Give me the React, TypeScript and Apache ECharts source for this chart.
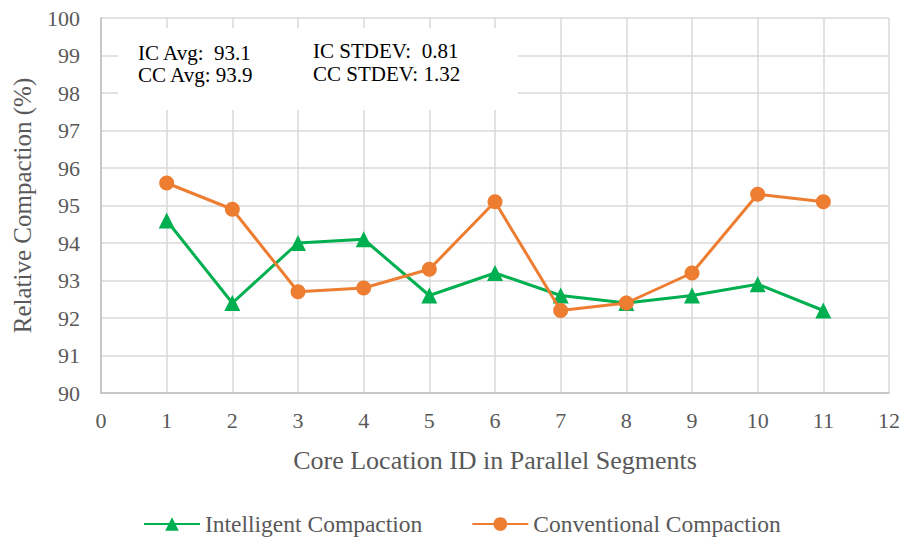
import React, { useEffect, useRef } from "react";
import * as echarts from "echarts";

const xValues = [1, 2, 3, 4, 5, 6, 7, 8, 9, 10, 11];
const icValues = [94.6, 92.4, 94.0, 94.1, 92.6, 93.2, 92.6, 92.4, 92.6, 92.9, 92.2];
const ccValues = [95.6, 94.9, 92.7, 92.8, 93.3, 95.1, 92.2, 92.4, 93.2, 95.3, 95.1];
const statsLeft = ["IC Avg:  93.1", "CC Avg: 93.9"];
const statsRight = ["IC STDEV:  0.81", "CC STDEV: 1.32"];

const FONT = "Liberation Serif";

export default function App() {
  const ref = useRef<HTMLDivElement>(null);
  useEffect(() => {
    if (!ref.current) return;
    document.body.style.margin = "0";
    const chart = echarts.init(ref.current, undefined, { renderer: "svg" });
    const toPairs = (vals: number[]) => xValues.map((x, i) => [x, vals[i]]);
    chart.setOption({
      animation: false,
      textStyle: { fontFamily: FONT },
      grid: { left: 101, right: 18, top: 18, bottom: 151 },
      xAxis: {
        type: "value",
        min: 0,
        max: 12,
        interval: 1,
        name: "Core Location ID in Parallel Segments",
        nameLocation: "middle",
        nameGap: 54,
        nameTextStyle: { fontFamily: FONT, fontSize: 26, color: "#595959" },
        axisLine: { show: true, lineStyle: { color: "#BFBFBF", width: 1.5 } },
        axisTick: { show: false },
        axisLabel: { fontFamily: FONT, fontSize: 22, color: "#595959", margin: 16 },
        splitLine: { show: true, lineStyle: { color: "#D9D9D9", width: 1.5 } },
      },
      yAxis: {
        type: "value",
        min: 90,
        max: 100,
        interval: 1,
        name: "Relative Compaction (%)",
        nameLocation: "middle",
        nameGap: 66,
        nameTextStyle: { fontFamily: FONT, fontSize: 25, color: "#595959" },
        axisLine: { show: true, lineStyle: { color: "#BFBFBF", width: 1.5 } },
        axisTick: { show: false },
        axisLabel: { fontFamily: FONT, fontSize: 22, color: "#595959", margin: 21 },
        splitLine: { show: true, lineStyle: { color: "#D9D9D9", width: 1.5 } },
      },
      legend: {
        bottom: 3,
        left: 138,
        itemWidth: 56,
        itemHeight: 17,
        itemGap: 49,
        textStyle: { fontFamily: FONT, fontSize: 23.5, color: "#595959" },
        data: ["Intelligent Compaction", "Conventional Compaction"],
      },
      series: [
        {
          name: "Intelligent Compaction",
          type: "line",
          data: toPairs(icValues),
          symbol: "triangle",
          symbolSize: 16,
          lineStyle: { color: "#00B050", width: 3 },
          itemStyle: { color: "#00B050" },
          z: 3,
        },
        {
          name: "Conventional Compaction",
          type: "line",
          data: toPairs(ccValues),
          symbol: "circle",
          symbolSize: 15,
          lineStyle: { color: "#ED7D31", width: 3 },
          itemStyle: { color: "#ED7D31" },
          z: 4,
        },
      ],
      graphic: [
        {
          type: "rect",
          shape: { x: 118, y: 28, width: 400, height: 82 },
          style: { fill: "#FFFFFF" },
          z: 1,
        },
        {
          type: "text",
          x: 138,
          y: 42,
          style: { text: statsLeft.join("\n"), font: `21px ${FONT}`, fill: "#000000", lineHeight: 22 },
          z: 2,
        },
        {
          type: "text",
          x: 313,
          y: 39,
          style: { text: statsRight.join("\n"), font: `21px ${FONT}`, fill: "#000000", lineHeight: 23 },
          z: 2,
        },
      ],
    });
    return () => chart.dispose();
  }, []);
  return <div ref={ref} style={{ width: 907, height: 544 }} />;
}
